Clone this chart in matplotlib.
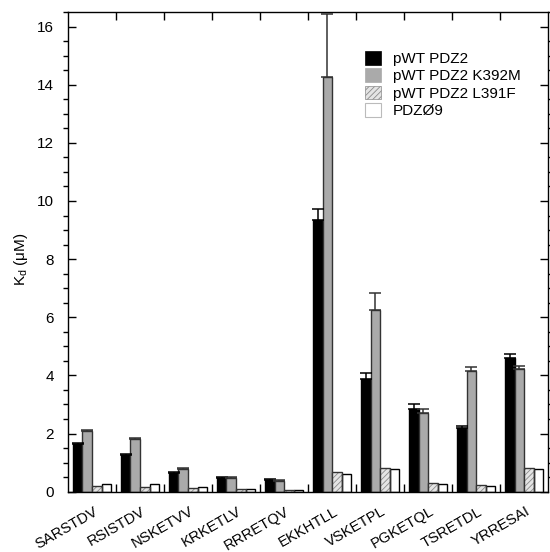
import numpy as np
import matplotlib
matplotlib.use("Agg")
import matplotlib.pyplot as plt
from matplotlib.patches import Patch
import matplotlib.transforms as mtransforms

plt.rcParams['font.family'] = ['Liberation Sans', 'DejaVu Sans']
plt.rcParams['mathtext.default'] = 'regular'
plt.rcParams['hatch.linewidth'] = 0.6

categories = ['SARSTDV', 'RSISTDV', 'NSKETVV', 'KRKETLV', 'RRRETQV',
              'EKKHTLL', 'VSKETPL', 'PGKETQL', 'TSRETDL', 'YRRESAI']
series_names = ['pWT PDZ2', 'pWT PDZ2 K392M', 'pWT PDZ2 L391F', 'PDZØ9']
wt = [1.64, 1.27, 0.66, 0.48, 0.40, 9.35, 3.86, 2.86, 2.19, 4.61]
wt_err = [0.03, 0.03, 0.03, 0.02, 0.02, 0.38, 0.23, 0.14, 0.06, 0.11]
k392m = [2.08, 1.82, 0.79, 0.48, 0.37, 14.26, 6.26, 2.70, 4.15, 4.21]
k392m_err = [0.04, 0.04, 0.03, 0.02, 0.02, 2.17, 0.58, 0.16, 0.15, 0.13]
l391f = [0.20, 0.15, 0.13, 0.08, 0.07, 0.69, 0.81, 0.29, 0.24, 0.80]
pdz9 = [0.27, 0.26, 0.16, 0.08, 0.06, 0.60, 0.77, 0.27, 0.20, 0.78]

W, H = 550, 552
fig = plt.figure(figsize=(W / 100, H / 100), dpi=100)
ax = fig.add_axes([68 / W, 1 - 491.7 / H, (548.3 - 68) / W, (491.7 - 12) / H])

x = np.arange(len(categories))
bw = 0.2
ekw = dict(elinewidth=1.1, capsize=4, capthick=1.1)

ax.bar(x - 1.5 * bw, wt, bw, color='black', edgecolor='black', linewidth=1.0,
       yerr=[np.zeros(len(wt)), wt_err], error_kw=dict(ecolor='black', **ekw), zorder=2)
ax.bar(x - 0.5 * bw, k392m, bw, color='#aaaaaa', edgecolor='#333333', linewidth=1.0,
       yerr=[np.zeros(len(k392m)), k392m_err], error_kw=dict(ecolor='#333333', **ekw), zorder=2)
ax.bar(x + 0.5 * bw, l391f, bw, color='#e4e4e4', edgecolor='#8a8a8a', linewidth=0,
       hatch='//////', zorder=2)
ax.bar(x + 0.5 * bw, l391f, bw, fill=False, edgecolor='#333333', linewidth=1.0, zorder=3)
ax.bar(x + 1.5 * bw, pdz9, bw, color='white', edgecolor='black', linewidth=1.0, zorder=2)

ax.set_xlim(-0.5, len(categories) - 0.5)
ax.set_ylim(0, 16.48)

# y ticks
ax.set_yticks(np.arange(0, 17, 2))
ax.set_yticks(np.arange(0, 16.6, 0.5), minor=True)
ax.tick_params(axis='y', which='major', direction='in', length=6, width=1.0,
               left=True, right=True, labelsize=11, pad=10)
ax.tick_params(axis='y', which='minor', direction='out', length=3.5, width=1.0,
               left=True, right=True)

# x ticks: labels at centers, tick marks at group boundaries
ax.set_xticks(x)
ax.set_xticklabels(categories, rotation=30, ha='right', fontsize=10.6)
ax.set_xticks(np.arange(0.5, len(categories) - 1, 1.0), minor=True)
ax.tick_params(axis='x', which='major', length=0, pad=9)
ax.tick_params(axis='x', which='minor', direction='in', length=5.5, width=1.0,
               bottom=True, top=True)
offset = mtransforms.ScaledTranslation(8 / 100, 0, fig.dpi_scale_trans)
for lbl in ax.get_xticklabels():
    lbl.set_transform(lbl.get_transform() + offset)

for s in ax.spines.values():
    s.set_linewidth(1.0)

ax.set_ylabel('K$_d$ (μM)', fontsize=11)
ax.yaxis.set_label_coords(-0.080, 0.485)

handles = [
    Patch(facecolor='black', edgecolor='black', linewidth=0.5),
    Patch(facecolor='#aaaaaa', edgecolor='#aaaaaa', linewidth=0.5),
    Patch(facecolor='#e4e4e4', edgecolor='#8a8a8a', hatch='//////', linewidth=0.5),
    Patch(facecolor='white', edgecolor='#bbbbbb', linewidth=0.8),
]
ax.legend(handles, series_names, loc='upper left', bbox_to_anchor=(0.619, 0.919),
          frameon=False, fontsize=11, handlelength=1.0, handleheight=1.0,
          labelspacing=0.15, handletextpad=0.8, borderpad=0, borderaxespad=0)

fig.savefig('out.png', dpi=100)
